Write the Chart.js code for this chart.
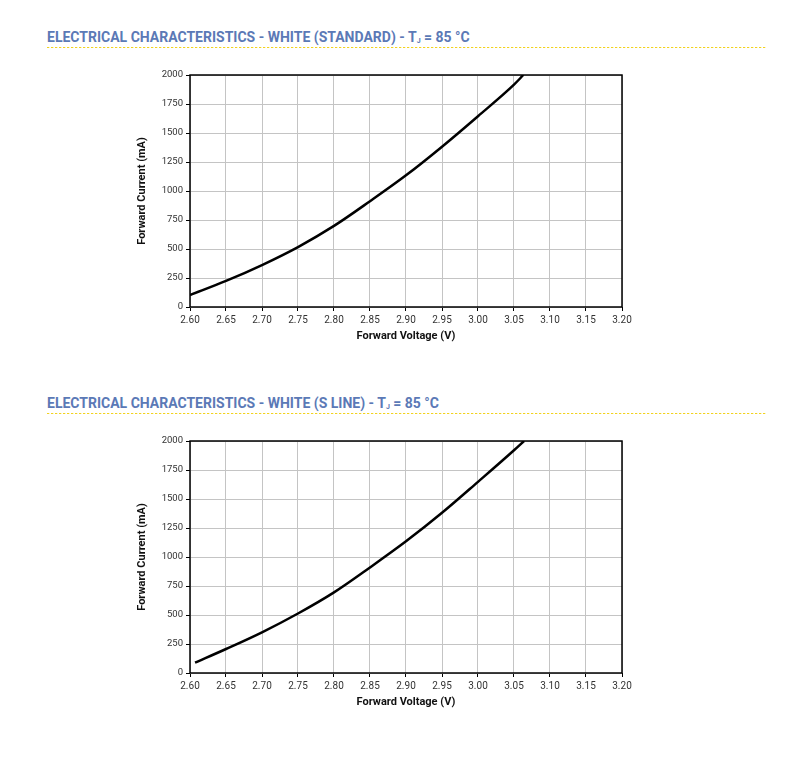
<!DOCTYPE html>
<html lang="en">
<head>
  <meta charset="UTF-8">
  <title>Electrical Characteristics - White</title>
  <script src="https://cdn.jsdelivr.net/npm/chart.js"></script>
  <style>
    body {
      margin: 0;
      width: 797px;
      height: 773px;
      background: #fff;
      font-family: Roboto, Arial, sans-serif;
      position: relative;
    }
    .heading {
      position: absolute;
      left: 47px;
      font-weight: bold;
      font-size: 14px;
      line-height: 18px;
      color: #5b79b6;
      white-space: nowrap;
    }
    .heading sub {
      font-size: 7px;
      line-height: 0;
      position: relative;
      top: 1px;
      vertical-align: baseline;
    }
    .rule {
      position: absolute;
      left: 47px;
      width: 720px;
      height: 1px;
      background-image: repeating-linear-gradient(to right, #f2d21e 0 2px, #fbf3c4 2px 3px, transparent 3px 4px);
    }
    .box {
      position: absolute;
      left: 120px;
      width: 520px;
      height: 290px;
    }
  </style>
</head>
<body>

  <div class="heading" style="top:28px">ELECTRICAL CHARACTERISTICS - WHITE (STANDARD) - T<sub>J</sub> = 85 °C</div>
  <div class="rule" style="top:47px"></div>
  <div class="box" style="top:60px"><canvas id="chartStandard"></canvas></div>

  <div class="heading" style="top:394px">ELECTRICAL CHARACTERISTICS - WHITE (S LINE) - T<sub>J</sub> = 85 °C</div>
  <div class="rule" style="top:413px"></div>
  <div class="box" style="top:426px"><canvas id="chartSLine"></canvas></div>

  <script>
    // tick labels
    const voltageTicks = [2.60, 2.65, 2.70, 2.75, 2.80, 2.85, 2.90, 2.95, 3.00, 3.05, 3.10, 3.15, 3.20];
    const currentTicks = [0, 250, 500, 750, 1000, 1250, 1500, 1750, 2000];

    // white (standard) curve
    const stdVoltage = [2.60, 2.65, 2.70, 2.75, 2.80, 2.85, 2.90, 2.95, 3.00, 3.05, 3.063];
    const stdCurrent = [103, 225, 362, 517, 699, 912, 1135, 1382, 1645, 1917, 2000];

    // white (S line) curve
    const sLineVoltage = [2.607, 2.65, 2.70, 2.75, 2.80, 2.85, 2.90, 2.95, 3.00, 3.05, 3.064];
    const sLineCurrent = [89, 207, 351, 513, 695, 910, 1135, 1381, 1648, 1920, 2000];

    // black frame round the plot area
    const frame = {
      id: 'frame',
      afterDraw(chart) {
        const a = chart.chartArea;
        const ctx = chart.ctx;
        ctx.save();
        ctx.strokeStyle = '#000';
        ctx.lineWidth = 1.5;
        ctx.strokeRect(a.left, a.top, a.right - a.left, a.bottom - a.top);
        ctx.restore();
      }
    };

    function makeChart(id, xs, ys) {
      const points = xs.map((x, i) => ({ x: x, y: ys[i] }));
      const ctx = document.getElementById(id).getContext('2d');
      return new Chart(ctx, {
        type: 'line',
        data: {
          datasets: [{
            data: points,
            borderColor: '#000',
            borderWidth: 2.5,
            pointRadius: 0,
            cubicInterpolationMode: 'monotone',
            fill: false
          }]
        },
        options: {
          responsive: true,
          maintainAspectRatio: false,
          animation: false,
          layout: { padding: { left: 16, top: 15, right: 18, bottom: 0 } },
          scales: {
            x: {
              type: 'linear',
              min: 2.6,
              max: 3.2,
              afterBuildTicks: s => { s.ticks = voltageTicks.map(v => ({ value: v })); },
              afterFit: s => { s.height = 43; },
              ticks: {
                callback: v => v.toFixed(2),
                font: { family: 'Roboto', size: 10 },
                color: '#333',
                padding: 3,
                maxRotation: 0,
                autoSkip: false
              },
              grid: { color: '#c4c4c4', tickColor: '#000', tickLength: 4 },
              border: { display: false },
              title: {
                display: true,
                text: 'Forward Voltage (V)',
                font: { family: 'Roboto', size: 11, weight: 'bold' },
                color: '#111',
                padding: { top: 2, bottom: 7 }
              }
            },
            y: {
              min: 0,
              max: 2000,
              afterBuildTicks: s => { s.ticks = currentTicks.map(v => ({ value: v })); },
              afterFit: s => { s.width = 54; },
              ticks: {
                callback: v => String(v),
                font: { family: 'Roboto', size: 9.5 },
                color: '#333',
                padding: 3
              },
              grid: { color: '#c4c4c4', tickColor: '#000', tickLength: 4 },
              border: { display: false },
              title: {
                display: true,
                text: 'Forward Current (mA)',
                font: { family: 'Roboto', size: 11, weight: 'bold' },
                color: '#111',
                padding: 0
              }
            }
          },
          plugins: {
            legend: { display: false },
            tooltip: { enabled: false }
          }
        },
        plugins: [frame]
      });
    }

    makeChart('chartStandard', stdVoltage, stdCurrent);
    makeChart('chartSLine', sLineVoltage, sLineCurrent);
  </script>

</body>
</html>
